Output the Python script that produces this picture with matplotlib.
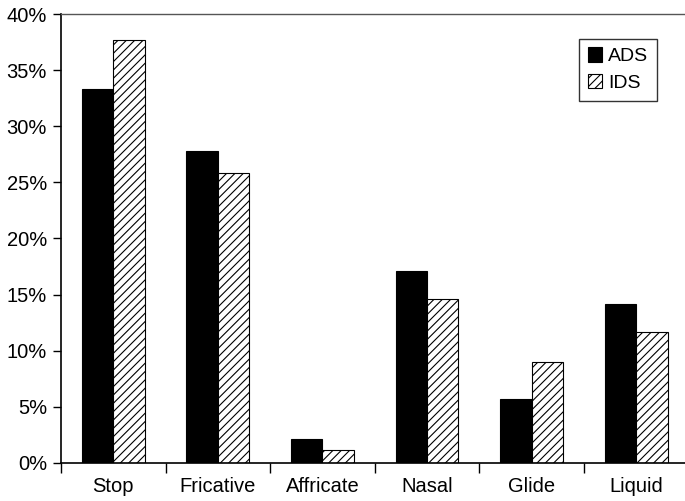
import matplotlib
matplotlib.use('Agg')
import matplotlib.pyplot as plt
import numpy as np

categories = ['Stop', 'Fricative', 'Affricate', 'Nasal', 'Glide', 'Liquid']
ads = [33.3, 27.8, 2.1, 17.1, 5.7, 14.2]
ids = [37.7, 25.8, 1.15, 14.6, 9.0, 11.7]

plt.rcParams['font.family'] = ['Liberation Sans', 'DejaVu Sans']
plt.rcParams['hatch.linewidth'] = 0.8

fig = plt.figure(figsize=(6.85, 5.01), dpi=100)
ax = fig.add_axes([0.089, 0.076, 0.916, 0.896])

x = np.arange(len(categories))
w = 0.3
ax.bar(x - w / 2, ads, w, color='black', edgecolor='black', linewidth=0.8, label='ADS')
ax.bar(x + w / 2, ids, w, color='white', edgecolor='black', linewidth=0.8,
       hatch='////', label='IDS')

ax.set_xlim(-0.5, len(categories) - 0.5)
ax.set_ylim(0, 40)
ax.set_yticks(range(0, 41, 5))
ax.set_yticklabels(['%d%%' % v for v in range(0, 41, 5)], fontsize=14.5)

# category labels in the middle, tick marks at group borders
ax.set_xticks(x)
ax.set_xticklabels(categories, fontsize=14.5)
ax.tick_params(axis='x', length=0, pad=10)
ax.set_xticks(np.arange(-0.5, len(categories), 1), minor=True)
ax.tick_params(axis='x', which='minor', length=7, width=1, direction='out')
ax.tick_params(axis='y', length=6, width=1, direction='out', pad=4)

ax.spines['right'].set_visible(False)
ax.spines['top'].set_color('#555555')
ax.spines['top'].set_linewidth(1)
ax.spines['left'].set_linewidth(1.2)
ax.spines['bottom'].set_linewidth(1.2)

leg = ax.legend(loc='upper left', bbox_to_anchor=(0.8255, 0.945), fontsize=14,
                frameon=True, fancybox=False, edgecolor='black',
                handlelength=0.75, handleheight=0.75, handletextpad=0.3,
                borderpad=0.45, borderaxespad=0, labelspacing=0.45)
leg.get_frame().set_linewidth(1)

fig.savefig('out.png', dpi=100)
